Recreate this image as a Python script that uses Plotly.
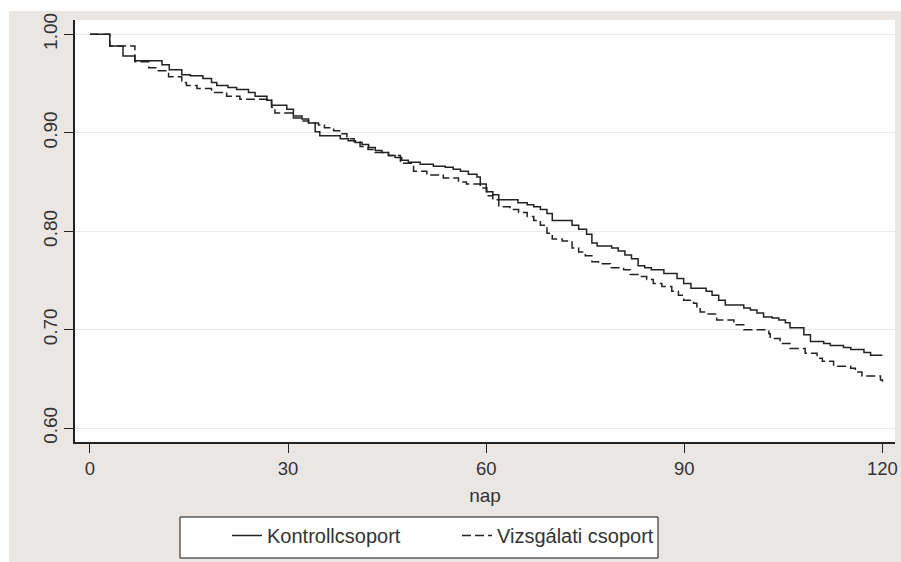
import plotly.graph_objects as go

# Kontrollcsoport (solid) - step points (time, survival after event)
ctrl_t = [0, 3.0, 5.0, 6.8, 10.9, 12.0, 13.9, 15.2, 17.1, 18.4, 19.2, 20.9, 22.2, 24.0, 25.0,
          26.8, 27.5, 29.8, 30.8, 32.1, 33.1, 34.1, 34.8, 37.9, 39.1, 40.2, 41.2, 42.2, 43.2,
          44.2, 45.2, 46.2, 47.2, 48.2, 50.0, 52.0, 53.8, 55.0, 56.1, 57.3, 58.6, 59.1, 60.0,
          61.0, 61.9, 64.8, 66.2, 67.2, 68.2, 69.2, 70.0, 73.0, 74.0, 75.2, 76.0, 76.8, 79.0,
          80.0, 81.0, 82.0, 83.0, 84.0, 85.0, 86.9, 88.9, 89.9, 91.0, 93.3, 94.2, 95.2, 96.2,
          99.0, 100.0, 101.0, 102.0, 103.3, 104.3, 105.3, 106.0, 108.1, 109.1, 111.1, 112.1,
          114.1, 115.2, 117.2, 118.2, 120.0]
ctrl_s = [1.000, 0.988, 0.978, 0.973, 0.969, 0.964, 0.959, 0.958, 0.955, 0.951, 0.948, 0.946, 0.944, 0.941, 0.937,
          0.933, 0.928, 0.924, 0.917, 0.914, 0.910, 0.901, 0.897, 0.894, 0.892, 0.890, 0.888, 0.885, 0.882,
          0.880, 0.877, 0.875, 0.872, 0.870, 0.868, 0.866, 0.865, 0.863, 0.861, 0.858, 0.855, 0.848, 0.840,
          0.837, 0.832, 0.829, 0.827, 0.825, 0.822, 0.818, 0.811, 0.806, 0.802, 0.797, 0.788, 0.785, 0.783,
          0.780, 0.776, 0.772, 0.765, 0.763, 0.761, 0.757, 0.752, 0.747, 0.742, 0.739, 0.735, 0.730, 0.725,
          0.722, 0.720, 0.717, 0.713, 0.712, 0.710, 0.707, 0.702, 0.695, 0.688, 0.686, 0.684,
          0.682, 0.680, 0.677, 0.674, 0.674]

# Vizsgálati csoport (dashed)
viz_t = [0, 3.0, 6.8, 8.9, 10.1, 11.9, 13.9, 14.6, 16.2, 18.4, 20.7, 22.7, 26.8, 27.5, 28.0,
         30.8, 32.1, 33.1, 34.6, 35.5, 36.9, 38.1, 38.9, 40.0, 40.9, 42.1, 43.2, 45.2, 47.0,
         49.0, 51.0, 53.5, 55.8, 57.0, 59.1, 60.1, 61.0, 61.9, 63.6, 64.9, 66.2, 67.2, 68.2,
         69.2, 70.0, 71.5, 73.0, 74.0, 75.0, 76.0, 77.0, 78.8, 80.8, 81.8, 83.3, 84.3, 85.3,
         86.6, 88.1, 89.1, 89.9, 91.4, 91.9, 92.4, 93.2, 94.9, 97.5, 99.0, 102.8, 103.0, 104.5,
         106.0, 108.3, 110.1, 110.9, 112.6, 115.2, 115.9, 116.9, 119.7, 120.0]
viz_s = [1.000, 0.988, 0.972, 0.966, 0.963, 0.957, 0.951, 0.948, 0.945, 0.941, 0.937, 0.934, 0.933, 0.926, 0.920,
         0.915, 0.912, 0.910, 0.908, 0.905, 0.902, 0.899, 0.894, 0.891, 0.886, 0.883, 0.880, 0.877, 0.869,
         0.861, 0.857, 0.854, 0.850, 0.848, 0.844, 0.836, 0.832, 0.825, 0.822, 0.819, 0.815, 0.811, 0.806,
         0.798, 0.792, 0.790, 0.783, 0.779, 0.775, 0.769, 0.767, 0.763, 0.761, 0.756, 0.754, 0.751, 0.747,
         0.744, 0.739, 0.735, 0.730, 0.727, 0.722, 0.718, 0.716, 0.710, 0.705, 0.700, 0.696, 0.691, 0.686,
         0.681, 0.676, 0.671, 0.668, 0.663, 0.661, 0.657, 0.653, 0.649, 0.646]

x_ticks = [0, 30, 60, 90, 120]
y_ticks = [0.60, 0.70, 0.80, 0.90, 1.00]
series_names = ["Kontrollcsoport", "Vizsgálati csoport"]
x_title = "nap"

W, H = 901, 562
L, R, T, B = 75, 6, 20, 120
PW, PH = W - L - R, H - T - B

def px_x(p):
    return (p - L) / PW

def px_y(p):
    return (H - B - p) / PH

FONT = "Liberation Sans, Arial, sans-serif"
ink = "#222222"

fig = go.Figure()
fig.add_trace(go.Scatter(x=ctrl_t, y=ctrl_s, mode="lines", line_shape="hv",
                         line=dict(color=ink, width=1.5), name=series_names[0]))
fig.add_trace(go.Scatter(x=viz_t, y=viz_s, mode="lines", line_shape="hv",
                         line=dict(color=ink, width=1.5, dash="9px,4px"), name=series_names[1]))

fig.update_layout(
    width=W, height=H,
    margin=dict(l=L, r=R, t=T, b=B, autoexpand=False),
    paper_bgcolor="#EAE6E3",
    plot_bgcolor="white",
    font=dict(family=FONT, color="#333333", size=18.5),
    showlegend=True,
    legend=dict(orientation="h", x=px_x(227), xanchor="left", y=px_y(516), yanchor="top",
                bgcolor="rgba(0,0,0,0)", borderwidth=0, font=dict(size=20, color="#333333"),
                entrywidth=185, entrywidthmode="pixels", traceorder="normal"),
    shapes=[
        # white page border at top and left
        dict(type="rect", xref="paper", yref="paper", x0=px_x(0), x1=px_x(W), y0=px_y(11), y1=px_y(0),
             fillcolor="white", line=dict(width=0), layer="below"),
        dict(type="rect", xref="paper", yref="paper", x0=px_x(0), x1=px_x(9), y0=px_y(H), y1=px_y(0),
             fillcolor="white", line=dict(width=0), layer="below"),
        # legend frame
        dict(type="rect", xref="paper", yref="paper", x0=px_x(180), x1=px_x(658), y0=px_y(558), y1=px_y(517),
             fillcolor="white", line=dict(color="#111111", width=1), layer="below"),
    ],
)

fig.update_xaxes(range=[-2.27, 121.9], tickvals=x_ticks, ticks="outside", ticklen=9, tickwidth=1,
                 tickcolor="#222222", showline=True, linecolor="#222222", linewidth=1.5,
                 showgrid=False, zeroline=False,
                 title=dict(text=x_title, standoff=11, font=dict(size=19)),
                 tickfont=dict(size=18.5), automargin=False)
fig.update_yaxes(range=[0.586, 1.0145], tickvals=y_ticks, tickformat=".2f", ticks="outside", ticklen=9,
                 tickwidth=1, tickcolor="#222222", showline=True, linecolor="#222222", linewidth=1.5,
                 showgrid=True, gridcolor="#EFE8E8", gridwidth=1, zeroline=False, tickangle=-90,
                 tickfont=dict(size=19), automargin=False)

fig.write_html("out.html", config={"displayModeBar": False},
               post_script="document.body.style.margin='0';document.body.style.overflow='hidden';")
